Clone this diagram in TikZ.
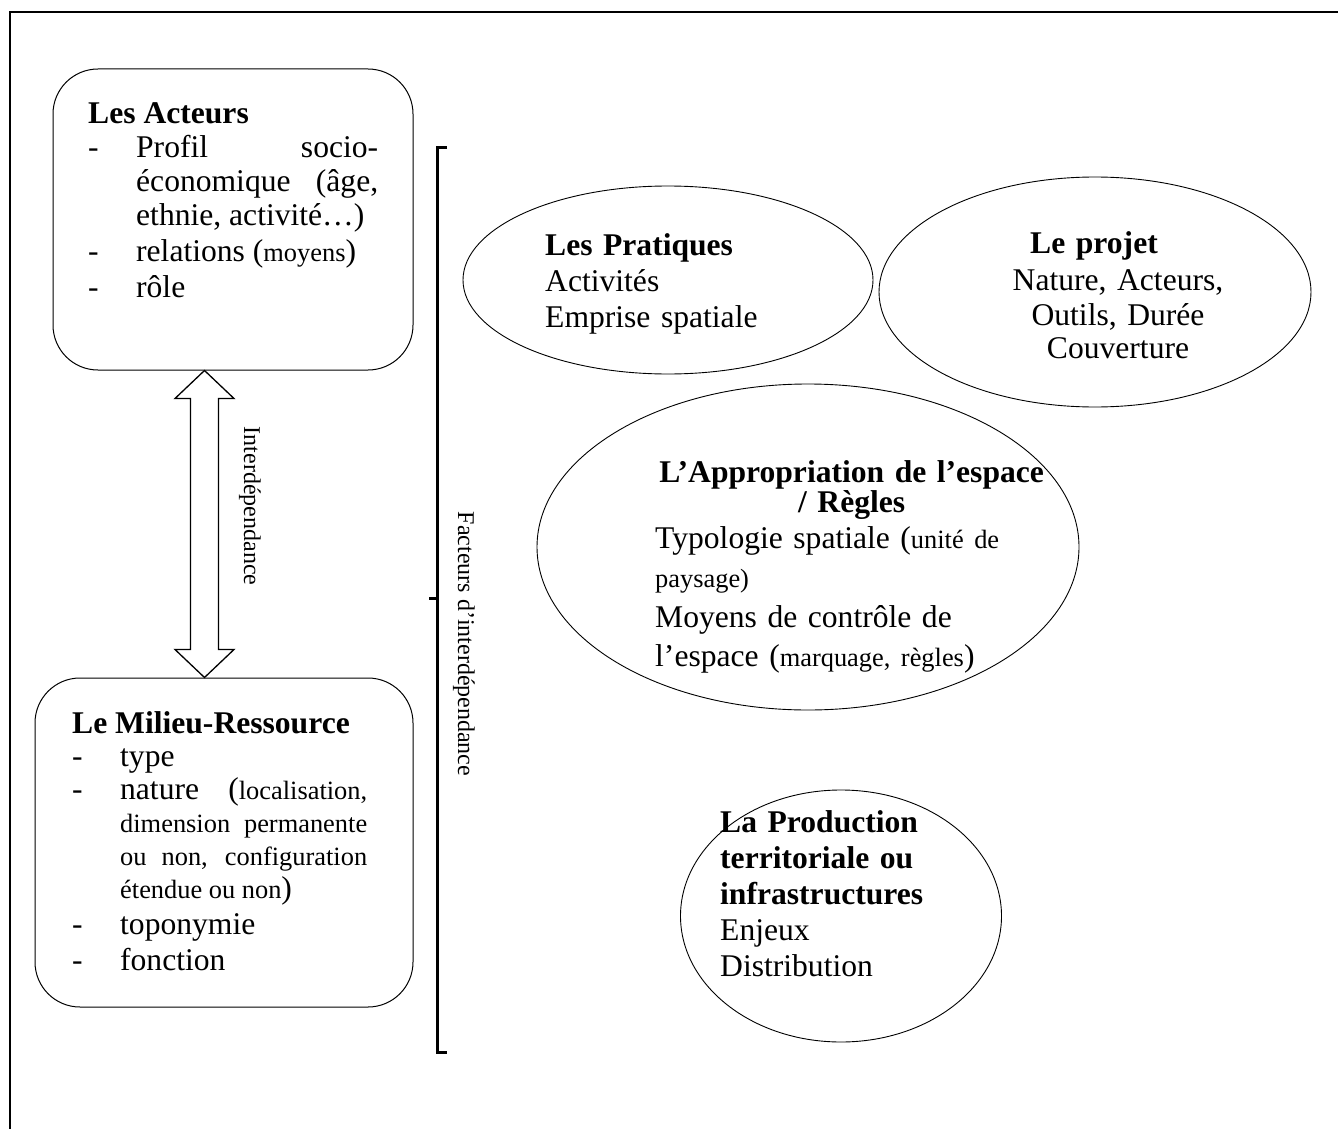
\documentclass[tikz,border=0pt]{standalone}
\usepackage{fontspec}
\setmainfont{Liberation Serif}
\usetikzlibrary{shapes, calc}

\newcommand\ptxt[1]{{\fontsize{26.4pt}{32pt}\selectfont #1}}
\newcommand\tiret{\par\noindent\hangindent=48pt\hangafter=1\makebox[48pt][l]{-}}

\begin{document}
\begin{tikzpicture}[x=1pt, y=-1pt,
	cadre/.style={draw, rectangle, rounded corners=45pt, line width=1pt, inner sep=0pt},
	bulle/.style={draw, ellipse, line width=0.9pt, inner sep=0pt},
	texte/.style={inner sep=0pt, font=\fontsize{31.6pt}{36pt}\selectfont},
	petit/.style={inner sep=0pt, font=\fontsize{24pt}{28pt}\selectfont}]
	
	\useasboundingbox (0,0) rectangle (1338,1129);
	\draw[line width=1.3pt] (10,1129) -- (10,12) -- (1338,12);
	
	% les deux cadres de gauche
	\node[cadre, minimum width=360, minimum height=301] (acteurs) at (233,219.5) {};
	\node[cadre, minimum width=378, minimum height=329] (milieu) at (224,842.5) {};
	
	\node[texte, anchor=base west, text width=290, align=justify] (acteursT) at (88,124)
		{\textbf{Les Acteurs}
		{\baselineskip=34pt\tiret Profil socio-\linebreak économique (âge,\linebreak ethnie, activité…)\par}
		\tiret relations (\ptxt{moyens})
		\tiret rôle\par};
	\node[texte, anchor=base west, text width=295, align=justify] (milieuT) at (72,733)
		{\textbf{Le Milieu-Ressource}
		\tiret type
		{\baselineskip=33pt\tiret nature (\ptxt{localisation,}\linebreak \ptxt{dimension permanente}\linebreak
		\ptxt{ou non, configuration}\linebreak \ptxt{étendue ou non})\par}
		\tiret toponymie
		\tiret fonction\par};
	
	% fleche double entre les cadres
	\coordinate (haut) at ([xshift=152pt]acteurs.south west);
	\coordinate (bas) at ([xshift=170pt]milieu.north west);
	\draw[line width=1.3pt, fill=white] (haut) -- ++(29.5,28) -- ++(-15.5,0)
		-- ($(bas)+(14,-28)$) -- ++(15.5,0) -- (bas) -- ++(-29.5,-28) -- ++(15.5,0)
		-- ($(haut)+(-14,28)$) -- ++(-15.5,0) -- cycle;
	\node[petit, rotate=-90] (interdep) at (250,506) {Interdépendance};
	
	% accolade
	\draw[line width=3pt] (447,147) -- (437,147) -- (437,1052) -- (447,1052);
	\draw[line width=3pt] (437,598) -- (429,598);
	\node[petit, rotate=-90] (facteurs) at (464,644) {Facteurs d’interdépendance};
	
	% les bulles
	\node[bulle, minimum width=410, minimum height=188] (pratiques) at (668,280) {};
	\node[bulle, minimum width=432, minimum height=230] (projet) at (1095,292) {};
	\node[bulle, minimum width=542, minimum height=326] (appropriation) at (808,547) {};
	\node[bulle, minimum width=321, minimum height=252] (production) at (841,916) {};
	
	\node[texte, anchor=base west, text width=260, align=left] (pratiquesT) at (545,255)
		{\textbf{Les Pratiques}\\ Activités\\ Emprise spatiale};
	\node[texte, anchor=base, text width=300, align=center] (projetT) at (1118,253)
		{\hspace*{-48pt}\textbf{Le projet}\\[1pt] Nature, Acteurs,\\[-1pt] Outils, Durée\\[-3pt] Couverture};
	\node[texte, anchor=base west, text width=393, align=left] (appropriationT) at (655,482)
		{{\centering\bfseries L’Appropriation de l’espace\\[-6pt] / Règles\par}
		Typologie spatiale (\ptxt{unité de}\\[3pt] \ptxt{paysage)}\\[4pt]
		Moyens de contrôle de\\[3pt] l’espace (\ptxt{marquage, règles})};
	\node[texte, anchor=base west, text width=260, align=left] (productionT) at (720,832)
		{\textbf{La Production}\\ \textbf{territoriale ou}\\ \textbf{infrastructures}\\ Enjeux\\ Distribution};
\end{tikzpicture}
\end{document}
